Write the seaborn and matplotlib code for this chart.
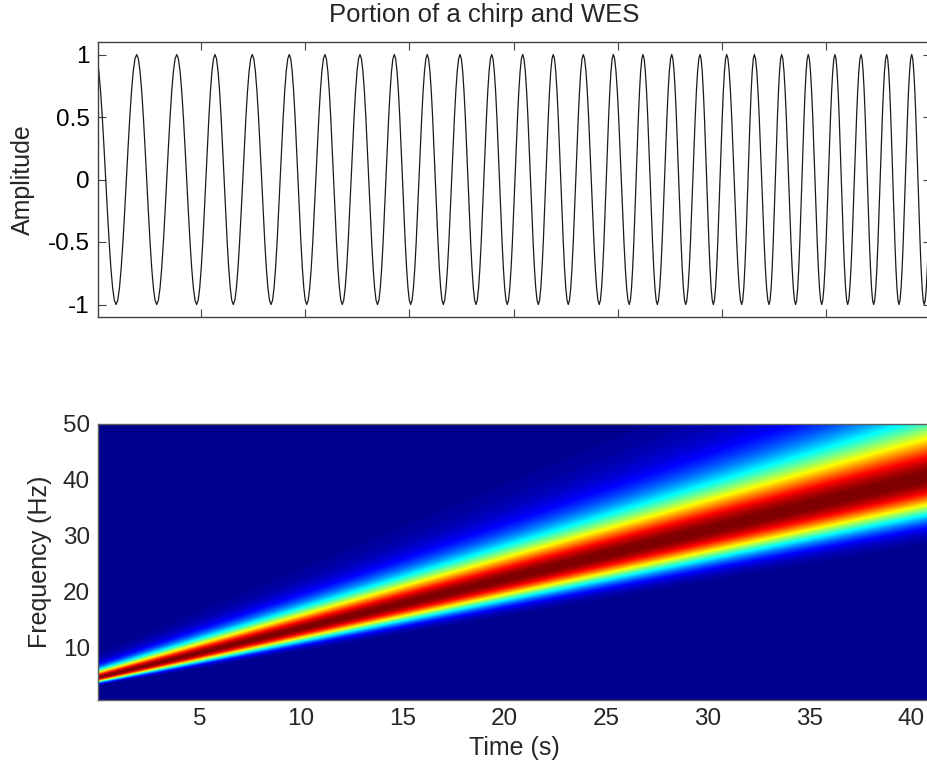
import numpy as np
import matplotlib
matplotlib.use("Agg")
import matplotlib.pyplot as plt
import seaborn as sns
from matplotlib.colors import ListedColormap

# ---------------- data ----------------
# Top panel: positions (sample index) of the successive peaks/troughs of the chirp portion
chirp_extrema_sample = [-1.0, 18.8, 38.6, 57.8, 77.0, 96.1, 113.7, 131.2, 149.4, 167.4,
                        184.9, 201.6, 219.1, 235.7, 252.7, 269.5, 285.6, 301.3, 317.2, 332.6,
                        348.6, 363.9, 379.0, 393.9, 408.7, 423.7, 438.0, 452.4, 466.8, 482.1,
                        495.6, 510.9, 524.0, 537.8, 551.6, 565.0, 578.7, 591.5, 604.3, 618.7,
                        630.8, 644.9, 657.0, 670.4, 682.5, 695.4, 708.1, 720.3, 733.1, 745.2,
                        757.7, 769.5, 781.7, 793.7, 805.7]
chirp_extrema_value = [1, -1, 1, -1, 1, -1, 1, -1, 1, -1,
                       1, -1, 1, -1, 1, -1, 1, -1, 1, -1,
                       1, -1, 1, -1, 1, -1, 1, -1, 1, -1,
                       1, -1, 1, -1, 1, -1, 1, -1, 1, -1,
                       1, -1, 1, -1, 1, -1, 1, -1, 1, -1,
                       1, -1, 1, -1, 1]
amp_ticks = [-1, -0.5, 0, 0.5, 1]
amp_ticklabels = ["-1", "-0.5", "0", "0.5", "1"]
sample_ticks = [100, 200, 300, 400, 500, 600, 700]

# Bottom panel: ridge of the wavelet energy spectrum and its (cyan) band edges
ridge_time = [0.3, 5.0, 15.1, 20.0, 28.2, 40.3]
ridge_freq = [5.2, 8.9, 18.3, 22.2, 28.9, 40.5]
edge_time = [0.3, 5.0, 15.1, 28.2, 40.3]
upper_edge_freq = [6.7, 11.4, 22.7, 38.0, 50.5]
lower_edge_freq = [4.1, 7.0, 15.6, 24.4, 33.2]
time_ticks = [5, 10, 15, 20, 25, 30, 35, 40]
freq_ticks = [10, 20, 30, 40, 50]

# ---------------- helpers ----------------
def line_through(x, xp, fp):
    """straight line that best passes through the read points"""
    a, b = np.polyfit(np.asarray(xp, float), np.asarray(fp, float), 1)
    return a * x + b

def matlab_jet(m=64):
    n = int(np.ceil(m / 4))
    u = np.concatenate([np.arange(1, n + 1) / n, np.ones(n - 1), np.arange(n, 0, -1) / n])
    g = int(np.ceil(n / 2)) - (1 if m % 4 == 1 else 0) + np.arange(1, len(u) + 1)
    r = g + n
    b = g - n
    J = np.zeros((m, 3))
    J[r[r <= m] - 1, 0] = u[r <= m]
    J[g[g <= m] - 1, 1] = u[g <= m]
    J[b[b >= 1] - 1, 2] = u[b >= 1]
    return ListedColormap(J)

# smooth cosine arcs between the read extrema
xs, ys = [], []
for k in range(len(chirp_extrema_sample) - 1):
    s0, s1 = chirp_extrema_sample[k], chirp_extrema_sample[k + 1]
    v0, v1 = chirp_extrema_value[k], chirp_extrema_value[k + 1]
    u = np.linspace(0, 1, 12, endpoint=False)
    xs.append(s0 + (s1 - s0) * u)
    ys.append((v0 - v1) / 2 * np.cos(np.pi * u) + (v0 + v1) / 2)
xs = np.concatenate(xs); ys = np.concatenate(ys)

# wavelet energy image
t = np.linspace(0, 41, 820)
f = np.linspace(0.7, 50, 600)
fc = line_through(t, ridge_time, ridge_freq)
fu = line_through(t, edge_time, upper_edge_freq)
fl = line_through(t, edge_time, lower_edge_freq)
cu = 1 - fc / fu
cl = fc / fl - 1
F, _ = np.meshgrid(f, t, indexing="ij")
r = 1 - fc[None, :] / F
c = np.where(r > 0, cu[None, :], cl[None, :])
energy = 0.36 ** ((r / c) ** 2)

# ---------------- drawing ----------------
sns.set_style("ticks")
plt.rcParams["font.family"] = ["Liberation Sans", "DejaVu Sans"]

W, H = 927, 773
fig = plt.figure(figsize=(W / 100, H / 100), dpi=100)
spine_col = "#404040"

ax1 = fig.add_axes([98 / W, 1 - 317 / H, 833 / W, 275 / H])
sns.lineplot(x=xs, y=ys, ax=ax1, color="#1a1a1a", linewidth=0.9, estimator=None, sort=False)
ax1.set_xlim(1.5, 800.2)
ax1.set_ylim(-1.1, 1.1)
ax1.set_xticks(sample_ticks)
ax1.set_xticklabels([])
ax1.set_yticks(amp_ticks)
ax1.set_yticklabels(amp_ticklabels)
ax1.tick_params(direction="in", top=True, right=True, length=5.5, width=0.8,
                labelsize=17.5, pad=5.8, colors=spine_col, labelcolor="black")
for s in ax1.spines.values():
    s.set_visible(True); s.set_color(spine_col); s.set_linewidth(1.0)
ax1.set_ylabel("Amplitude", fontsize=18, va="center")
ax1.yaxis.set_label_coords(-0.090, 0.5)
ax1.set_xlabel("")

fig.text(484.5 / W, 1 - 22 / H, "Portion of a chirp and WES", ha="center",
         va="baseline", fontsize=18.5)

ax2 = fig.add_axes([98 / W, 1 - 700 / H, 833 / W, 276 / H])
ax2.imshow(energy, origin="lower", extent=[0, 41, 0.7, 50], aspect="auto",
           cmap=matlab_jet(64), vmin=0, vmax=1, interpolation="bilinear")
ax2.set_xlim(0, 41)
ax2.set_ylim(0.7, 50)
ax2.set_xticks(time_ticks)
ax2.set_yticks(freq_ticks)
ax2.tick_params(length=0, labelsize=17.5, pad=5.8)
for s in ax2.spines.values():
    s.set_visible(True); s.set_color("#606060"); s.set_linewidth(1.0)
ax2.set_xlabel("Time (s)", fontsize=18, va="center")
ax2.xaxis.set_label_coords(0.5, -0.174)
ax2.set_ylabel("Frequency (Hz)", fontsize=18, va="center")
ax2.yaxis.set_label_coords(-0.0696, 0.5)

fig.savefig("out.png", dpi=100)
